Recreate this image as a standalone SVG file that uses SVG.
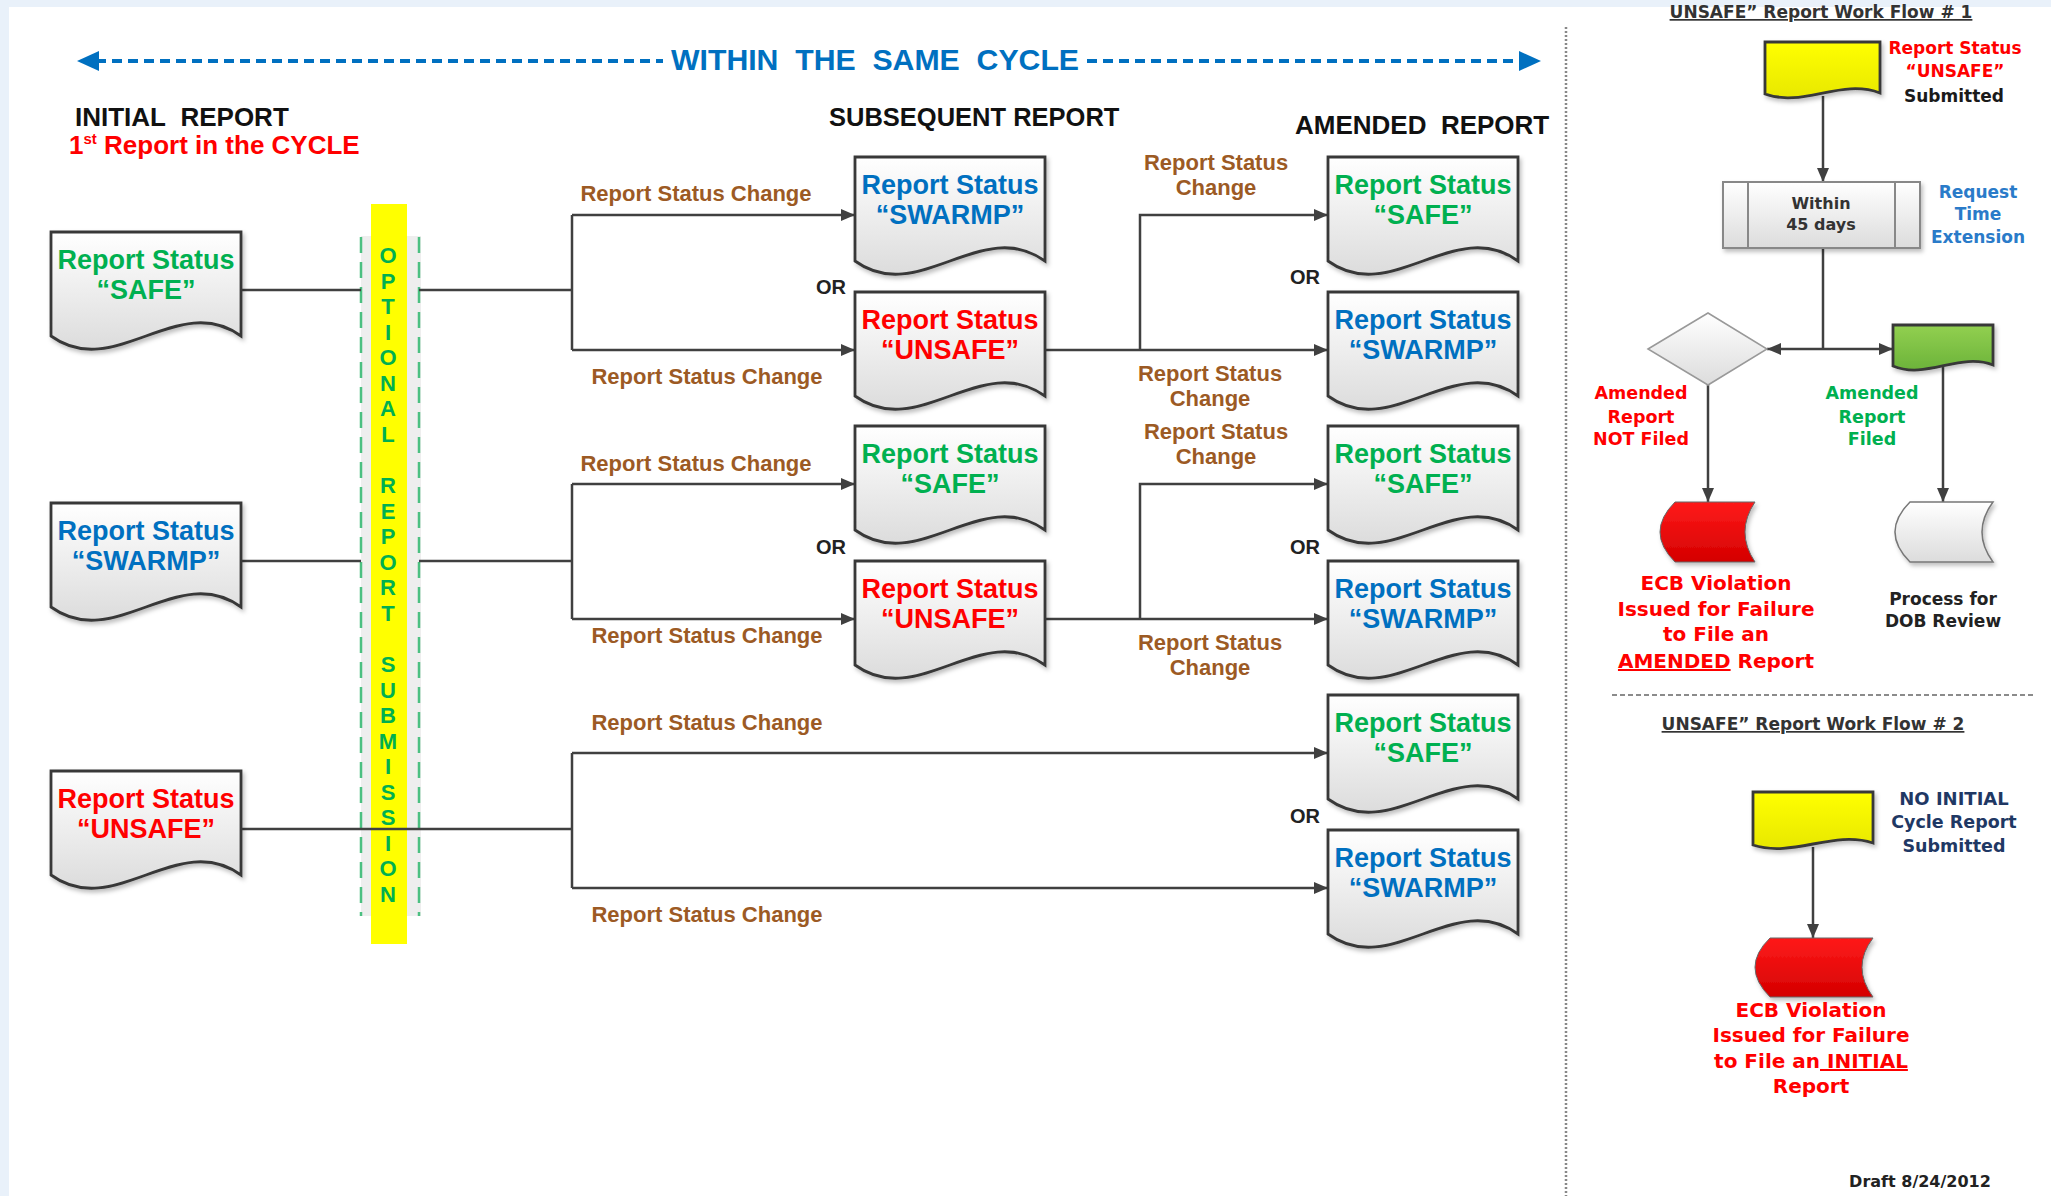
<svg xmlns="http://www.w3.org/2000/svg" width="2051" height="1196" viewBox="0 0 2051 1196">
<defs>
<style>
.nt{font-family:"Liberation Sans",Arial,sans-serif;font-weight:bold;font-size:27px;text-anchor:middle}
.g{fill:#00B050}.b{fill:#0070C0}.r{fill:#FF0000}
.lbl{font-family:"Liberation Sans",Arial,sans-serif;font-weight:bold;font-size:22px;fill:#9C5A24;text-anchor:middle}
.or{font-family:"Liberation Sans",Arial,sans-serif;font-weight:bold;font-size:20px;fill:#222;text-anchor:middle}
.hd{font-family:"Liberation Sans",Arial,sans-serif;font-weight:bold;font-size:26px;fill:#111}
.opt{font-family:"Liberation Sans",Arial,sans-serif;font-weight:bold;font-size:22px;fill:#00B050;text-anchor:middle}
.rp{font-family:"DejaVu Sans",Verdana,sans-serif;font-weight:bold;font-size:17px;text-anchor:middle}
.s16{font-size:16px}.s175{font-size:17.5px}.s18{font-size:18px}.s20{font-size:20px}
.con{fill:none;stroke:#404040;stroke-width:2.5}
.cona{fill:none;stroke:#404040;stroke-width:2.5;marker-end:url(#arr)}
.doc{fill:url(#gdoc);stroke:#383838;stroke-width:2.8}
</style>
<linearGradient id="gdoc" x1="0" y1="0" x2="0" y2="1"><stop offset="0" stop-color="#ffffff"/><stop offset="1" stop-color="#dcdcdc"/></linearGradient>
<linearGradient id="gyel" x1="0" y1="0" x2="0" y2="1"><stop offset="0" stop-color="#ffff00"/><stop offset="1" stop-color="#e8e800"/></linearGradient>
<linearGradient id="ggrn" x1="0" y1="0" x2="0" y2="1"><stop offset="0" stop-color="#92D050"/><stop offset="1" stop-color="#6cb33a"/></linearGradient>
<linearGradient id="gred" x1="0" y1="0" x2="0" y2="1"><stop offset="0" stop-color="#ff1a1a"/><stop offset="1" stop-color="#d40000"/></linearGradient>
<filter id="sh" x="-10%" y="-10%" width="125%" height="130%"><feDropShadow dx="2" dy="3" stdDeviation="2" flood-color="#000" flood-opacity="0.25"/></filter>
<path id="doc" d="M0,0 H190 V104 C127,58 63,150 0,104 Z"/>
<marker id="arr" markerUnits="userSpaceOnUse" markerWidth="14" markerHeight="12" refX="14" refY="6" orient="auto"><path d="M0,0 L14,6 L0,12 Z" fill="#404040"/></marker>
</defs>

<rect x="0" y="0" width="2051" height="1196" fill="#ffffff"/>
<rect x="0" y="0" width="2051" height="7" fill="#E9F1FA"/>
<rect x="0" y="0" width="9" height="1196" fill="#E9F1FA"/>

<!-- top cycle arrow -->
<g id="cycle">
<line x1="96" y1="61" x2="663" y2="61" stroke="#0070C0" stroke-width="4" stroke-dasharray="10 6"/>
<line x1="1087" y1="61" x2="1522" y2="61" stroke="#0070C0" stroke-width="4" stroke-dasharray="10 6"/>
<polygon points="77,61 99,51 99,71" fill="#0070C0"/>
<polygon points="1541,61 1519,51 1519,71" fill="#0070C0"/>
<text x="671" y="70" textLength="408" lengthAdjust="spacingAndGlyphs" font-family="Liberation Sans, Arial, sans-serif" font-weight="bold" font-size="30" fill="#0070C0">WITHIN&#160; THE&#160; SAME&#160; CYCLE</text>
</g>

<!-- headings -->
<text class="hd" x="75" y="126">INITIAL&#160; REPORT</text>
<text class="hd" x="69" y="154" style="fill:#FF0000">1<tspan style="font-size:15px" dy="-10">st</tspan><tspan dy="10"> Report in the CYCLE</tspan></text>
<text class="hd" x="829" y="126" style="font-size:25.5px">SUBSEQUENT REPORT</text>
<text class="hd" x="1295" y="134">AMENDED&#160; REPORT</text>

<!-- separator -->
<line x1="1566" y1="27" x2="1566" y2="1196" stroke="#888" stroke-width="2.5" stroke-dasharray="2 2"/>

<!-- optional column -->
<g id="optional">
<rect x="361" y="236" width="60" height="680" fill="#EEEEEE"/>
<line x1="361" y1="237" x2="361" y2="916" stroke="#4CC081" stroke-width="2.5" stroke-dasharray="16 9"/>
<line x1="419" y1="237" x2="419" y2="916" stroke="#4CC081" stroke-width="2.5" stroke-dasharray="16 9"/>
<rect x="371" y="204" width="36" height="740" fill="#FFFF00"/>
<text class="opt" x="388" y="263">O</text>
<text class="opt" x="388" y="289">P</text>
<text class="opt" x="388" y="314">T</text>
<text class="opt" x="388" y="340">I</text>
<text class="opt" x="388" y="365">O</text>
<text class="opt" x="388" y="391">N</text>
<text class="opt" x="388" y="416">A</text>
<text class="opt" x="388" y="442">L</text>
<text class="opt" x="388" y="493">R</text>
<text class="opt" x="388" y="519">E</text>
<text class="opt" x="388" y="544">P</text>
<text class="opt" x="388" y="570">O</text>
<text class="opt" x="388" y="595">R</text>
<text class="opt" x="388" y="621">T</text>
<text class="opt" x="388" y="672">S</text>
<text class="opt" x="388" y="698">U</text>
<text class="opt" x="388" y="723">B</text>
<text class="opt" x="388" y="749">M</text>
<text class="opt" x="388" y="774">I</text>
<text class="opt" x="388" y="800">S</text>
<text class="opt" x="388" y="825">S</text>
<text class="opt" x="388" y="851">I</text>
<text class="opt" x="388" y="876">O</text>
<text class="opt" x="388" y="902">N</text>
</g>

<!-- connectors -->
<g id="connectors">
<path class="con" d="M242,290 H361 M419,290 H572 M572,215 V350"/>
<path class="cona" d="M572,215 H855"/>
<path class="cona" d="M572,350 H855"/>
<path class="con" d="M242,561 H361 M419,561 H572 M572,484 V619"/>
<path class="cona" d="M572,484 H855"/>
<path class="cona" d="M572,619 H855"/>
<path class="con" d="M242,829 H572 M572,753 V888"/>
<path class="cona" d="M572,753 H1328"/>
<path class="cona" d="M572,888 H1328"/>
<path class="cona" d="M1045,350 H1328"/>
<path class="cona" d="M1140,350 V215 H1328"/>
<path class="cona" d="M1045,619 H1328"/>
<path class="cona" d="M1140,619 V484 H1328"/>
<!-- right panel -->
<path class="cona" d="M1823,96 V182"/>
<path class="con" d="M1823,248 V349"/>
<path class="cona" d="M1823,349 H1767"/>
<path class="cona" d="M1823,349 H1893"/>
<path class="cona" d="M1708,385 V502"/>
<path class="cona" d="M1943,367 V502"/>
<path class="cona" d="M1813,847 V938"/>
</g>

<!-- labels -->
<g id="labels">
<text class="lbl" x="696" y="201">Report Status Change</text>
<text class="lbl" x="707" y="384">Report Status Change</text>
<text class="lbl" x="696" y="471">Report Status Change</text>
<text class="lbl" x="707" y="643">Report Status Change</text>
<text class="lbl" x="707" y="730">Report Status Change</text>
<text class="lbl" x="707" y="922">Report Status Change</text>
<text class="lbl" x="1216" y="170">Report Status</text>
<text class="lbl" x="1216" y="195">Change</text>
<text class="lbl" x="1210" y="381">Report Status</text>
<text class="lbl" x="1210" y="406">Change</text>
<text class="lbl" x="1216" y="439">Report Status</text>
<text class="lbl" x="1216" y="464">Change</text>
<text class="lbl" x="1210" y="650">Report Status</text>
<text class="lbl" x="1210" y="675">Change</text>
<text class="or" x="831" y="294">OR</text>
<text class="or" x="831" y="554">OR</text>
<text class="or" x="1305" y="284">OR</text>
<text class="or" x="1305" y="554">OR</text>
<text class="or" x="1305" y="823">OR</text>
</g>

<!-- initial column -->
<g id="init-safe"><use href="#doc" x="51" y="232" class="doc" filter="url(#sh)"/><text class="nt g" x="146" y="269">Report Status</text><text class="nt g" x="146" y="299">“SAFE”</text></g>
<g id="init-swarmp"><use href="#doc" x="51" y="503" class="doc" filter="url(#sh)"/><text class="nt b" x="146" y="540">Report Status</text><text class="nt b" x="146" y="570">“SWARMP”</text></g>
<g id="init-unsafe"><use href="#doc" x="51" y="771" class="doc" filter="url(#sh)"/><text class="nt r" x="146" y="808">Report Status</text><text class="nt r" x="146" y="838">“UNSAFE”</text></g>

<!-- subsequent column -->
<g id="sub-swarmp"><use href="#doc" x="855" y="157" class="doc" filter="url(#sh)"/><text class="nt b" x="950" y="194">Report Status</text><text class="nt b" x="950" y="224">“SWARMP”</text></g>
<g id="sub-unsafe1"><use href="#doc" x="855" y="292" class="doc" filter="url(#sh)"/><text class="nt r" x="950" y="329">Report Status</text><text class="nt r" x="950" y="359">“UNSAFE”</text></g>
<g id="sub-safe"><use href="#doc" x="855" y="426" class="doc" filter="url(#sh)"/><text class="nt g" x="950" y="463">Report Status</text><text class="nt g" x="950" y="493">“SAFE”</text></g>
<g id="sub-unsafe2"><use href="#doc" x="855" y="561" class="doc" filter="url(#sh)"/><text class="nt r" x="950" y="598">Report Status</text><text class="nt r" x="950" y="628">“UNSAFE”</text></g>

<!-- amended column -->
<g id="am-safe1"><use href="#doc" x="1328" y="157" class="doc" filter="url(#sh)"/><text class="nt g" x="1423" y="194">Report Status</text><text class="nt g" x="1423" y="224">“SAFE”</text></g>
<g id="am-swarmp1"><use href="#doc" x="1328" y="292" class="doc" filter="url(#sh)"/><text class="nt b" x="1423" y="329">Report Status</text><text class="nt b" x="1423" y="359">“SWARMP”</text></g>
<g id="am-safe2"><use href="#doc" x="1328" y="426" class="doc" filter="url(#sh)"/><text class="nt g" x="1423" y="463">Report Status</text><text class="nt g" x="1423" y="493">“SAFE”</text></g>
<g id="am-swarmp2"><use href="#doc" x="1328" y="561" class="doc" filter="url(#sh)"/><text class="nt b" x="1423" y="598">Report Status</text><text class="nt b" x="1423" y="628">“SWARMP”</text></g>
<g id="am-safe3"><use href="#doc" x="1328" y="695" class="doc" filter="url(#sh)"/><text class="nt g" x="1423" y="732">Report Status</text><text class="nt g" x="1423" y="762">“SAFE”</text></g>
<g id="am-swarmp3"><use href="#doc" x="1328" y="830" class="doc" filter="url(#sh)"/><text class="nt b" x="1423" y="867">Report Status</text><text class="nt b" x="1423" y="897">“SWARMP”</text></g>

<!-- right panel workflow 1 -->
<text class="rp" x="1821" y="18" fill="#333" style="text-decoration:underline">UNSAFE” Report Work Flow # 1</text>
<g id="wf1-unsafe-doc">
<path d="M1765,42 H1880 V93 C1841,78 1803,108 1765,94 Z" fill="url(#gyel)" stroke="#383838" stroke-width="2.8" filter="url(#sh)"/>
<text class="rp" x="1955" y="54" fill="#FF0000">Report Status</text>
<text class="rp" x="1955" y="77" fill="#FF0000">“UNSAFE”</text>
<text class="rp" x="1954" y="102" fill="#1a1a1a">Submitted</text>
</g>
<g id="wf1-within">
<rect x="1723" y="182" width="197" height="66" fill="url(#gdoc)" stroke="#888" stroke-width="2" filter="url(#sh)"/>
<line x1="1748" y1="182" x2="1748" y2="248" stroke="#888" stroke-width="2"/>
<line x1="1895" y1="182" x2="1895" y2="248" stroke="#888" stroke-width="2"/>
<text class="rp s16" x="1821" y="209" fill="#333">Within</text>
<text class="rp s16" x="1821" y="230" fill="#333">45 days</text>
<text class="rp" x="1978" y="198" fill="#2A7BC9">Request</text>
<text class="rp" x="1978" y="220" fill="#2A7BC9">Time</text>
<text class="rp" x="1978" y="243" fill="#2A7BC9">Extension</text>
</g>
<g id="wf1-decision">
<polygon points="1648,349 1708,313 1767,349 1708,385" fill="url(#gdoc)" stroke="#999" stroke-width="1.5"/>
<text class="rp s175" x="1641" y="399" fill="#FF0000">Amended</text>
<text class="rp s175" x="1641" y="423" fill="#FF0000">Report</text>
<text class="rp s175" x="1641" y="445" fill="#FF0000">NOT Filed</text>
</g>
<g id="wf1-amended-doc">
<path d="M1893,325 H1993 V365 C1960,352 1926,380 1893,366 Z" fill="url(#ggrn)" stroke="#383838" stroke-width="2.8" filter="url(#sh)"/>
<text class="rp s175" x="1872" y="399" fill="#00B050">Amended</text>
<text class="rp s175" x="1872" y="423" fill="#00B050">Report</text>
<text class="rp s175" x="1872" y="445" fill="#00B050">Filed</text>
</g>
<g id="wf1-ecb">
<path d="M1675,502 H1755 Q1735,532 1755,562 H1675 Q1645,532 1675,502 Z" fill="url(#gred)" stroke="#666" stroke-width="1" filter="url(#sh)"/>
<text class="rp s20" x="1716" y="590" fill="#FF0000">ECB Violation</text>
<text class="rp s20" x="1716" y="616" fill="#FF0000">Issued for Failure</text>
<text class="rp s20" x="1716" y="641" fill="#FF0000">to File an</text>
<text class="rp s20" x="1716" y="668" fill="#FF0000"><tspan style="text-decoration:underline">AMENDED</tspan> Report</text>
</g>
<g id="wf1-dob">
<path d="M1910,502 H1993 Q1971,532 1993,562 H1910 Q1880,532 1910,502 Z" fill="url(#gdoc)" stroke="#777" stroke-width="1.5" filter="url(#sh)"/>
<text class="rp" x="1943" y="605" fill="#222">Process for</text>
<text class="rp" x="1943" y="627" fill="#222">DOB Review</text>
</g>

<line x1="1612" y1="695" x2="2035" y2="695" stroke="#666" stroke-width="1.5" stroke-dasharray="5 3"/>

<!-- right panel workflow 2 -->
<text class="rp" x="1813" y="730" fill="#333" style="text-decoration:underline">UNSAFE” Report Work Flow # 2</text>
<g id="wf2-noinitial">
<path d="M1753,792 H1873 V843 C1833,830 1793,858 1753,845 Z" fill="url(#gyel)" stroke="#383838" stroke-width="2.8" filter="url(#sh)"/>
<text class="rp s18" x="1954" y="805" fill="#1F3864">NO INITIAL</text>
<text class="rp s175" x="1954" y="828" fill="#1F3864">Cycle Report</text>
<text class="rp s175" x="1954" y="852" fill="#1F3864">Submitted</text>
</g>
<g id="wf2-ecb">
<path d="M1770,938 H1873 Q1851,967 1873,997 H1770 Q1740,967 1770,938 Z" fill="url(#gred)" stroke="#666" stroke-width="1" filter="url(#sh)"/>
<text class="rp s20" x="1811" y="1017" fill="#FF0000">ECB Violation</text>
<text class="rp s20" x="1811" y="1042" fill="#FF0000">Issued for Failure</text>
<text class="rp s20" x="1811" y="1068" fill="#FF0000">to File an<tspan style="text-decoration:underline"> INITIAL</tspan></text>
<text class="rp s20" x="1811" y="1093" fill="#FF0000">Report</text>
</g>
<text class="rp s16" x="1920" y="1187" fill="#222">Draft 8/24/2012</text>
</svg>
